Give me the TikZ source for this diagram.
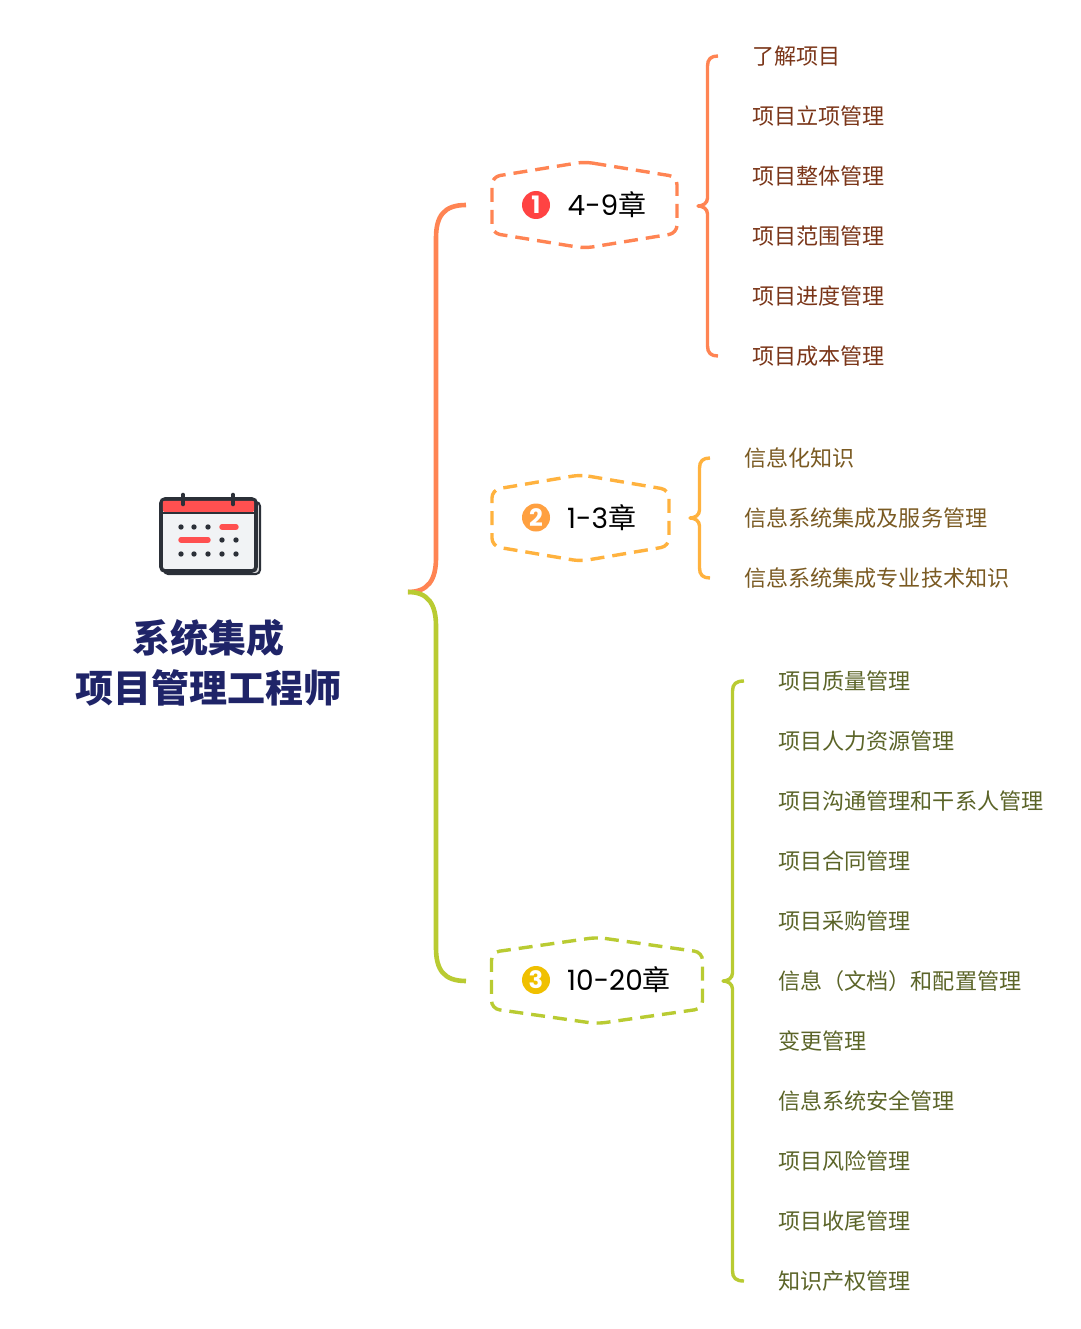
\documentclass[tikz,border=0pt]{standalone}
\usepackage{fontspec}
\setmainfont{Noto Sans CJK SC}
\newfontfamily\latinlabel{Poppins}
\definecolor{cOrange}{HTML}{FF8453}
\definecolor{cYellow}{HTML}{FFB23E}
\definecolor{cGreen}{HTML}{B9CB32}
\definecolor{tOne}{HTML}{7A3518}
\definecolor{tTwo}{HTML}{7A5A22}
\definecolor{tThree}{HTML}{5B6428}
\definecolor{cTitle}{HTML}{1F2468}
\definecolor{cRed}{HTML}{FF4343}
\definecolor{cIconRed}{HTML}{FF5050}
\definecolor{cBadgeTwo}{HTML}{FFA040}
\definecolor{cBadgeThree}{HTML}{F0C000}
\definecolor{cDark}{HTML}{2B3038}
\definecolor{cPage}{HTML}{F1F3F5}
\tikzset{
  leaf/.style={anchor=west,inner xsep=34pt,inner ysep=0pt,font=\fontsize{22.1}{24}\selectfont},
  leafA/.style={leaf,text=tOne},
  leafB/.style={leaf,text=tTwo},
  leafC/.style={leaf,text=tThree},
  hubtext/.style={anchor=west,inner sep=0pt,font=\fontsize{28}{32}\selectfont,text=black},
  badge/.style={circle,minimum size=28pt,inner sep=0pt,text=white,font=\fontsize{24}{26}\selectfont\bfseries\latinlabel},
  hexline/.style={line width=3.4pt,dash pattern=on 14pt off 8pt,rounded corners=8pt},
  trunk/.style={line width=4.6pt},
  brace/.style={line width=3.4pt,line join=round},
  titletext/.style={align=center,inner sep=0pt,text=cTitle,font=\fontsize{38}{50}\selectfont\bfseries},
  hub/.style={minimum height=86pt,inner sep=0pt},
}
\newcommand{\hexagon}[3]{% name, half width, colour
  \draw[hexline,#3] (#1.north) -- ([xshift=#2pt,yshift=-15pt]#1.north) -- ([xshift=#2pt,yshift=15pt]#1.south)
    -- (#1.south) -- ([xshift=-#2pt,yshift=15pt]#1.south) -- ([xshift=-#2pt,yshift=-15pt]#1.north) -- cycle;
}
\begin{document}
\begin{tikzpicture}[x=1pt,y=-1pt]
\useasboundingbox (0,0) rectangle (1080,1329);
% calendar
\filldraw[fill=cPage!75!gray,draw=cDark,line width=2pt,rounded corners=4pt] (164,502) rectangle (260,574);
\filldraw[fill=cPage,draw=cDark,line width=3.6pt,rounded corners=4pt] (161,499) rectangle (256,571);
\fill[cIconRed,rounded corners=2pt] (162.8,500.8) rectangle (254.2,512);
\draw[cDark,line width=2.6pt] (161,513) -- (256,513);
\draw[cDark,line width=4.6pt,line cap=round] (183,495) -- (183,504);
\draw[cDark,line width=4.6pt,line cap=round] (233,495) -- (233,504);
\foreach \px/\py in {181/527,194/527,208/527,222/540,236/540,181/554,194/554,208/554,222/554,236/554}
  \fill[cDark] (\px,\py) circle (2.7pt);
\draw[cIconRed,line width=5.4pt,line cap=round] (222,527) -- (236,527);
\draw[cIconRed,line width=5.4pt,line cap=round] (181,540) -- (208,540);
% title
\node[titletext] (root) at (208,663) {系统集成\\项目管理工程师};
\coordinate (rootout) at (408,592);
% hubs
\node[hub,minimum width=185pt] (h1) at (584.5,205) {};
\node[hub,minimum width=177pt] (h2) at (580.5,518) {};
\node[hub,minimum width=211pt] (h3) at (597,980.5) {};
\hexagon{h1}{92.5}{cOrange}
\hexagon{h2}{88.5}{cYellow}
\hexagon{h3}{105.5}{cGreen}
\node[badge,fill=cRed] (b1) at (536,205) {1};
\node[badge,fill=cBadgeTwo] (b2) at (536,517.5) {2};
\node[badge,fill=cBadgeThree] (b3) at (536,980) {3};
\node[hubtext] (t1) at (567.5,205) {{\latinlabel 4-9}章};
\node[hubtext] (t2) at (567,518) {{\latinlabel 1-3}章};
\node[hubtext] (t3) at (567,980) {{\latinlabel 10-20}章};
% trunks
\draw[trunk,cOrange] (rootout) .. controls (428,592) and (436,580) .. (436,558) -- (436,238) .. controls (436,216) and (444,205) .. (466,205);
\draw[trunk,cGreen] (rootout) .. controls (428,592) and (436,604) .. (436,626) -- (436,948) .. controls (436,970) and (444,981) .. (466,981);
% leaves group 1
\node[leafA] (a1) at (718,56) {了解项目};
\node[leafA] (a2) at (718,116) {项目立项管理};
\node[leafA] (a3) at (718,176) {项目整体管理};
\node[leafA] (a4) at (718,236) {项目范围管理};
\node[leafA] (a5) at (718,296) {项目进度管理};
\node[leafA] (a6) at (718,356) {项目成本管理};
% leaves group 2
\node[leafB] (m1) at (710,458) {信息化知识};
\node[leafB] (m2) at (710,518) {信息系统集成及服务管理};
\node[leafB] (m3) at (710,578) {信息系统集成专业技术知识};
% leaves group 3
\node[leafC] (c1) at (744,681) {项目质量管理};
\node[leafC] (c2) at (744,741) {项目人力资源管理};
\node[leafC] (c3) at (744,801) {项目沟通管理和干系人管理};
\node[leafC] (c4) at (744,861) {项目合同管理};
\node[leafC] (c5) at (744,921) {项目采购管理};
\node[leafC] (c6) at (744,981) {信息（文档）和配置管理};
\node[leafC] (c7) at (744,1041) {变更管理};
\node[leafC] (c8) at (744,1101) {信息系统安全管理};
\node[leafC] (c9) at (744,1161) {项目风险管理};
\node[leafC] (c10) at (744,1221) {项目收尾管理};
\node[leafC] (c11) at (744,1281) {知识产权管理};
% braces
\coordinate (tip1) at (698,206);
\coordinate (tip2) at (690,518);
\coordinate (tip3) at (723,981);
\draw[brace,cOrange] (a1.west) .. controls (711,56) and (707.5,59) .. (707.5,66) -- (707.5,198) .. controls (707.5,203) and (703,206) .. (tip1)
  .. controls (703,206) and (707.5,209) .. (707.5,214) -- (707.5,346) .. controls (707.5,353) and (711,356) .. (a6.west);
\draw[brace,cYellow] (m1.west) .. controls (703,458) and (699.5,461) .. (699.5,468) -- (699.5,510) .. controls (699.5,515) and (695,518) .. (tip2)
  .. controls (695,518) and (699.5,521) .. (699.5,526) -- (699.5,568) .. controls (699.5,575) and (703,578) .. (m3.west);
\draw[brace,cGreen] (c1.west) .. controls (736,681) and (732.5,684) .. (732.5,691) -- (732.5,973) .. controls (732.5,978) and (728,981) .. (tip3)
  .. controls (728,981) and (732.5,984) .. (732.5,989) -- (732.5,1271) .. controls (732.5,1278) and (736,1281) .. (c11.west);
\end{tikzpicture}
\end{document}
